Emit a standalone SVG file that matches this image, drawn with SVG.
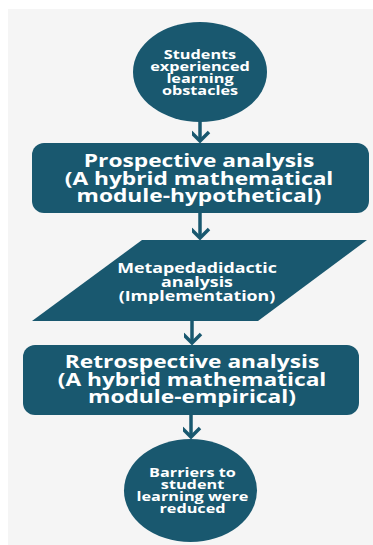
<svg xmlns="http://www.w3.org/2000/svg" width="373" height="545" viewBox="0 0 373 545">
<style>
.node{fill:#19586f;}
.t{fill:#ffffff;font-family:"Open Sans","DejaVu Sans",sans-serif;font-weight:bold;text-anchor:middle;}
.s{font-size:12.5px;}
.m{font-size:13.7px;}
.l{font-size:17.5px;}
.c{fill:none;stroke:#19586f;stroke-width:3.5;stroke-linecap:butt;}
</style>
<defs>
<marker id="ah" markerUnits="userSpaceOnUse" markerWidth="24" markerHeight="20" viewBox="-12 -12 24 20" refX="0" refY="0" orient="auto">
<path d="M-9,-9 L0,0 L9,-9" transform="rotate(-90)" fill="none" stroke="#19586f" stroke-width="3.5" stroke-linejoin="miter"/>
</marker>
</defs>
<rect x="0" y="0" width="373" height="545" fill="#ffffff"/>
<rect x="8" y="9" width="365" height="536" fill="#f5f5f5"/>
<g id="connectors">
<path class="c" d="M200,121 V141" marker-end="url(#ah)"/>
<path class="c" d="M200,213 V238" marker-end="url(#ah)"/>
<path class="c" d="M192,321 V343" marker-end="url(#ah)"/>
<path class="c" d="M191,415 V437" marker-end="url(#ah)"/>
</g>
<g id="start">
<ellipse class="node" cx="200" cy="72" rx="67" ry="50"/>
<text class="t s" transform="translate(200,0) scale(1.3,1)"><tspan x="0" y="59">Students</tspan><tspan x="0" y="71">experienced</tspan><tspan x="0" y="83">learning</tspan><tspan x="0" y="95">obstacles</tspan></text>
</g>
<g id="prospective">
<rect class="node" x="32" y="143" width="337" height="70" rx="12"/>
<text class="t l" transform="translate(199,0) scale(1.3,1)"><tspan x="0" y="167">Prospective analysis</tspan><tspan x="0" y="185">(A hybrid mathematical</tspan><tspan x="0" y="202">module-hypothetical)</tspan></text>
</g>
<g id="metapedadidactic">
<polygon class="node" points="142,240 367,240 258,321 32,321"/>
<text class="t m" transform="translate(197,0) scale(1.3,1)"><tspan x="0" y="273">Metapedadidactic</tspan><tspan x="0" y="287">analysis</tspan><tspan x="0" y="301">(Implementation)</tspan></text>
</g>
<g id="retrospective">
<rect class="node" x="23" y="345" width="336" height="70" rx="12"/>
<text class="t l" transform="translate(192,0) scale(1.3,1)"><tspan x="0" y="368">Retrospective analysis</tspan><tspan x="0" y="386">(A hybrid mathematical</tspan><tspan x="0" y="403">module-empirical)</tspan></text>
</g>
<g id="end">
<ellipse class="node" cx="190.5" cy="490.5" rx="66.5" ry="51.5"/>
<text class="t s" transform="translate(192.5,0) scale(1.3,1)"><tspan x="0" y="477">Barriers to</tspan><tspan x="0" y="489">student</tspan><tspan x="0" y="501">learning were</tspan><tspan x="0" y="513">reduced</tspan></text>
</g>
</svg>
